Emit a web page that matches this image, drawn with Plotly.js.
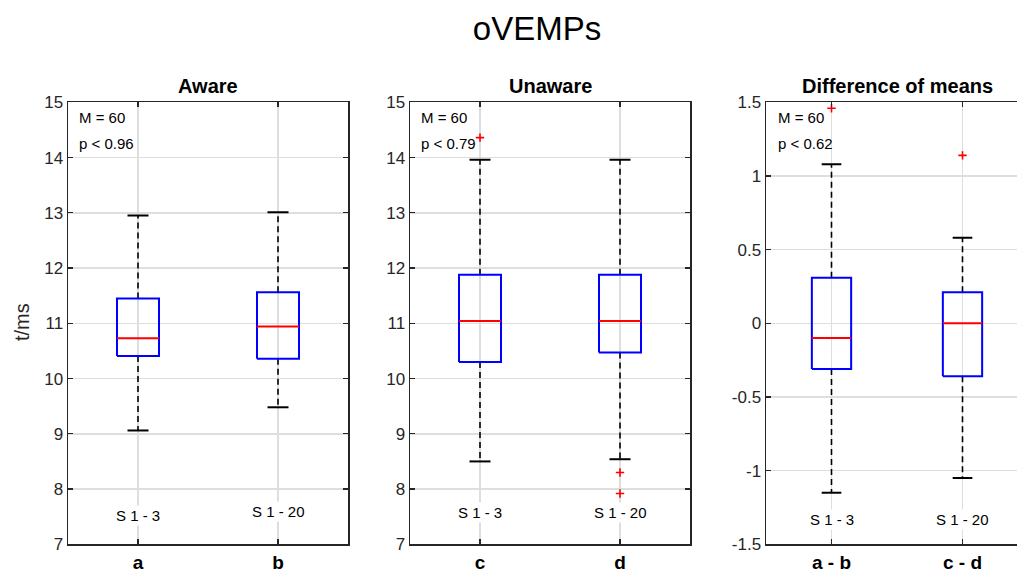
<!DOCTYPE html>
<html>
<head>
<meta charset="utf-8">
<script src="https://cdn.plot.ly/plotly-3.0.1.min.js"></script>
<style>
  html, body { margin: 0; padding: 0; background: #fff; }
  #chart { width: 1017px; height: 572px; }
</style>
</head>
<body>
<div id="chart"></div>
<script>
// ---- data: box-plot summaries of oVEMP latencies (ms) ----
const awareCats = ['a', 'b'];
const unawareCats = ['c', 'd'];
const diffCats = ['a - b', 'c - d'];
const sessionLabels = ['S 1 - 3', 'S 1 - 20'];

const awareQ1 = [10.41, 10.36];
const awareMedian = [10.73, 10.94];
const awareQ3 = [11.45, 11.56];
const awareLow = [9.06, 9.48];
const awareHigh = [12.95, 13.01];
const awareOutliers = [[], []];

const unawareQ1 = [10.30, 10.47];
const unawareMedian = [11.04, 11.04];
const unawareQ3 = [11.88, 11.88];
const unawareLow = [8.50, 8.54];
const unawareHigh = [13.96, 13.96];
const unawareOutliers = [[14.36], [8.30, 7.92]];

const diffQ1 = [-0.31, -0.36];
const diffMedian = [-0.10, 0.00];
const diffQ3 = [0.31, 0.21];
const diffLow = [-1.15, -1.05];
const diffHigh = [1.08, 0.58];
const diffOutliers = [[1.46], [1.14]];

const sampleCounts = ['M = 60', 'M = 60', 'M = 60'];
const pValues = ['p < 0.96', 'p < 0.79', 'p < 0.62'];
const panelTitles = ['Aware', 'Unaware', 'Difference of means'];
const diffTickVals = [-1.5, -1, -0.5, 0, 0.5, 1, 1.5];
const diffTickText = ['-1.5', '-1', '-0.5', '0', '0.5', '1', '1.5'];

// ---- drawing helpers ----
const W = 1017, H = 572;
const px = x => x / W;
const py = y => 1 - y / H;
const FONT = 'Liberation Sans, Arial, Helvetica, sans-serif';
const BOX_HALF = 0.15, CAP_HALF = 0.075;

function boxTraces(xa, ya, q1, med, q3, lo, hi, outl) {
  const wx = [], wy = [], cx = [], cy = [], bx = [], by = [], mx = [], my = [], ox = [], oy = [];
  for (let i = 0; i < q1.length; i++) {
    const x = i + 1;
    wx.push(x, x, null, x, x, null);
    wy.push(q3[i], hi[i], null, q1[i], lo[i], null);
    cx.push(x - CAP_HALF, x + CAP_HALF, null, x - CAP_HALF, x + CAP_HALF, null);
    cy.push(hi[i], hi[i], null, lo[i], lo[i], null);
    bx.push(x - BOX_HALF, x + BOX_HALF, x + BOX_HALF, x - BOX_HALF, x - BOX_HALF, null);
    by.push(q1[i], q1[i], q3[i], q3[i], q1[i], null);
    mx.push(x - BOX_HALF, x + BOX_HALF, null);
    my.push(med[i], med[i], null);
    outl[i].forEach(v => { ox.push(x); oy.push(v); });
  }
  const base = { xaxis: xa, yaxis: ya, type: 'scatter', hoverinfo: 'skip', showlegend: false,
    connectgaps: false };
  return [
    Object.assign({}, base, { x: wx, y: wy, mode: 'lines',
      line: { color: '#000', width: 1.6, dash: '6px,4px' } }),
    Object.assign({}, base, { x: cx, y: cy, mode: 'lines',
      line: { color: '#000', width: 2 } }),
    Object.assign({}, base, { x: bx, y: by, mode: 'lines',
      line: { color: '#0000ff', width: 2 } }),
    Object.assign({}, base, { x: mx, y: my, mode: 'lines',
      line: { color: '#ff0000', width: 2 } }),
    Object.assign({}, base, { x: ox, y: oy, mode: 'markers',
      marker: { symbol: 'cross-thin', size: 6, line: { color: '#ff0000', width: 1.6 } } })
  ];
}

const data = [].concat(
  boxTraces('x', 'y', awareQ1, awareMedian, awareQ3, awareLow, awareHigh, awareOutliers),
  boxTraces('x2', 'y2', unawareQ1, unawareMedian, unawareQ3, unawareLow, unawareHigh, unawareOutliers),
  boxTraces('x3', 'y3', diffQ1, diffMedian, diffQ3, diffLow, diffHigh, diffOutliers)
);

const axisCommon = {
  showline: true, linecolor: '#262626', linewidth: 1.5,
  ticks: 'inside', ticklen: 5, tickwidth: 1.3, tickcolor: '#262626',
  showgrid: true, gridcolor: '#dedede', gridwidth: 1.5,
  zeroline: false, fixedrange: true, automargin: false
};
const yDomain = [py(544.3), py(102.3)];

function xAxis(domain, range, cats, anchor) {
  return Object.assign({}, axisCommon, {
    domain: domain, range: range, mirror: 'ticks', anchor: anchor,
    tickvals: [1, 2], ticktext: cats,
    tickfont: { family: FONT, size: 19, color: '#000', weight: 'bold' }
  });
}
function yAxis(range, anchor, extra) {
  return Object.assign({}, axisCommon, {
    domain: yDomain, range: range, mirror: 'ticks', anchor: anchor,
    tickfont: { family: FONT, size: 17, color: '#262626' }
  }, extra || {});
}

const annotations = [];
const panelCenters = [208, 550, 897];
const panelLefts = [77, 419, 776];
panelTitles.forEach((t, i) => {
  annotations.push({ xref: 'paper', yref: 'paper', x: px(panelCenters[i]), y: py(86),
    xanchor: 'center', yanchor: 'middle', showarrow: false, text: '<b>' + t + '</b>',
    font: { family: FONT, size: 20, color: '#000' } });
  annotations.push({ xref: 'paper', yref: 'paper', x: px(panelLefts[i]), y: py(117.5),
    xanchor: 'left', yanchor: 'middle', showarrow: false, text: sampleCounts[i],
    font: { family: FONT, size: 15, color: '#000' } });
  annotations.push({ xref: 'paper', yref: 'paper', x: px(panelLefts[i]), y: py(143.5),
    xanchor: 'left', yanchor: 'middle', showarrow: false, text: pValues[i],
    font: { family: FONT, size: 15, color: '#000' } });
});

// session labels under each box, masking the grid line behind them
const sessionY = [[7.52, 7.59], [7.57, 7.57], [-1.33, -1.33]];
['', '2', '3'].forEach((s, p) => {
  sessionLabels.forEach((lab, i) => {
    annotations.push({ xref: 'x' + s, yref: 'y' + s, x: i + 1, y: sessionY[p][i],
      xanchor: 'center', yanchor: 'middle', showarrow: false, text: lab,
      bgcolor: '#fff', borderpad: 1,
      font: { family: FONT, size: 15, color: '#000' } });
  });
});

annotations.push({ xref: 'paper', yref: 'paper', x: px(22), y: py(322),
  xanchor: 'center', yanchor: 'middle', showarrow: false, text: 't/ms', textangle: -90,
  font: { family: FONT, size: 20, color: '#262626' } });

const layout = {
  width: W, height: H,
  margin: { l: 0, r: 0, t: 0, b: 0, pad: 0 },
  paper_bgcolor: '#fff', plot_bgcolor: '#fff',
  showlegend: false,
  title: { text: 'oVEMPs', x: px(537), xanchor: 'center', y: py(28), yanchor: 'middle',
    font: { family: FONT, size: 33, color: '#000' } },
  xaxis: xAxis([px(68), px(348)], [0.5, 2.5], awareCats, 'y'),
  xaxis2: xAxis([px(410), px(690)], [0.5, 2.5], unawareCats, 'y2'),
  xaxis3: xAxis([px(766), 1], [0.5, 0.5 + 251 / 131], diffCats, 'y3'),
  yaxis: yAxis([7, 15], 'x', { dtick: 1 }),
  yaxis2: yAxis([7, 15], 'x2', { dtick: 1 }),
  yaxis3: yAxis([-1.5, 1.5], 'x3', { tickvals: diffTickVals, ticktext: diffTickText, mirror: false }),
  annotations: annotations
};

Plotly.newPlot('chart', data, layout, { staticPlot: true, displayModeBar: false });
</script>
</body>
</html>
